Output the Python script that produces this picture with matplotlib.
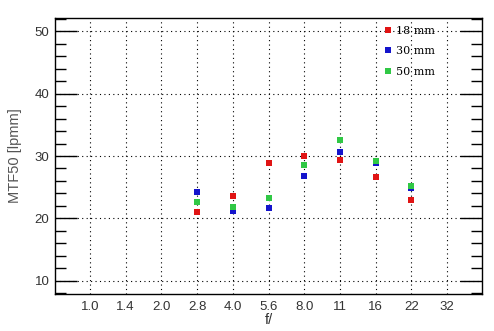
import matplotlib
matplotlib.use("Agg")
import matplotlib.pyplot as plt
from matplotlib.ticker import MultipleLocator

plt.rcParams["font.family"] = ["Liberation Sans", "DejaVu Sans"]

# f-stops on the x axis (evenly spaced categories)
f_stops = ["1.0", "1.4", "2.0", "2.8", "4.0", "5.6", "8.0", "11", "16", "22", "32"]

# measured f-stops and MTF50 values per focal length
measured = ["2.8", "4.0", "5.6", "8.0", "11", "16", "22"]
mtf_18mm = [21.0, 23.6, 28.8, 30.0, 29.3, 26.6, 22.9]
mtf_30mm = [24.2, 21.2, 21.6, 26.8, 30.6, 28.9, 24.8]
mtf_50mm = [22.6, 21.8, 23.3, 28.5, 32.5, 29.2, 25.2]

series = [
    ("18 mm", mtf_18mm, "#e01414"),
    ("30 mm", mtf_30mm, "#1414cc"),
    ("50 mm", mtf_50mm, "#30c845"),
]

fig = plt.figure(figsize=(4.94, 3.31), dpi=100)
ax = fig.add_axes([55 / 494, 1 - 294 / 331, 427 / 494, 276 / 331])

xpos = [f_stops.index(f) for f in measured]
for label, vals, col in series:
    ax.plot(xpos, vals, linestyle="none", marker="s", markersize=4.3,
            color=col, markeredgewidth=0, label=label)

ax.set_xlim(-0.98, 10.98)
ax.set_ylim(7.9, 52.1)
ax.set_xticks(range(len(f_stops)))
ax.set_xticklabels(f_stops)
ax.yaxis.set_major_locator(MultipleLocator(10))
ax.yaxis.set_minor_locator(MultipleLocator(2))

# grid: dotted black
ax.grid(True, which="major", linestyle=(0, (1, 3)), color="black", linewidth=0.8)
ax.set_axisbelow(True)

ax.tick_params(axis="x", length=0, pad=5, labelsize=9.5, labelcolor="#333333")
ax.tick_params(axis="y", which="major", direction="in", length=16, width=1.0,
               left=True, right=True, labelsize=9.5, labelcolor="#333333", pad=4)
ax.tick_params(axis="y", which="minor", direction="in", length=8, width=1.0,
               left=True, right=True)
for sp in ax.spines.values():
    sp.set_linewidth(1.0)

ax.set_xlabel("f/", fontsize=10.5, color="#333333", labelpad=0)
ax.set_ylabel("MTF50 [lpmm]", fontsize=10.5, color="#555555", labelpad=9)

leg = ax.legend(loc="upper left", bbox_to_anchor=(0.755, 1.0), frameon=False,
                prop={"family": "DejaVu Serif", "size": 8},
                handlelength=0.5, handletextpad=0.5, labelspacing=0.95,
                markerscale=0.95, borderaxespad=0.3)

fig.savefig("out.png", dpi=100)
